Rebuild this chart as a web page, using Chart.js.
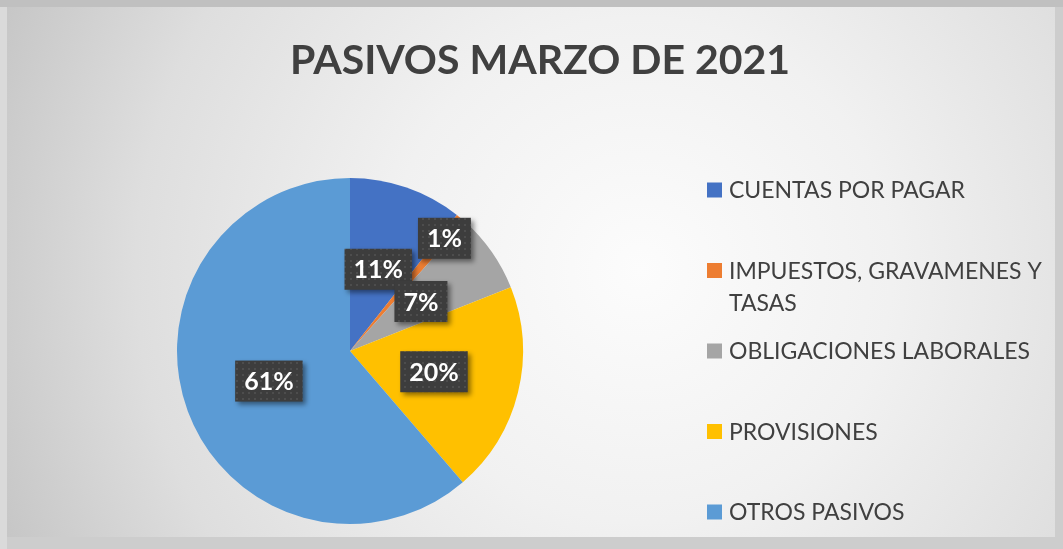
<!DOCTYPE html>
<html>
<head>
<meta charset="utf-8">
<script src="https://cdn.jsdelivr.net/npm/chart.js@4.4.1/dist/chart.umd.min.js"></script>
<style>
  html, body { margin: 0; padding: 0; background: #d0d0d0; }
  #wrap { position: absolute; left: 0; top: 0; width: 1063px; height: 549px; }
</style>
</head>
<body>
<div id="wrap"><canvas id="c" width="1063" height="549"></canvas></div>
<script>
// ---- data ----
const chartTitle = 'PASIVOS MARZO DE 2021';
const categories = ['CUENTAS POR PAGAR', 'IMPUESTOS, GRAVAMENES Y TASAS', 'OBLIGACIONES LABORALES', 'PROVISIONES', 'OTROS PASIVOS'];
const legendLines = [['CUENTAS POR PAGAR'], ['IMPUESTOS, GRAVAMENES Y', 'TASAS'], ['OBLIGACIONES LABORALES'], ['PROVISIONES'], ['OTROS PASIVOS']];
const shares = [10.6, 1.0, 7.4, 19.7, 61.3];
const colors = ['#4472C4', '#ED7D31', '#A5A5A5', '#FFC000', '#5B9BD5'];

// ---- styles ----
const TEXT_COLOR = '#404040';
const FONT = 'Lato, "Open Sans", "Liberation Sans", sans-serif';

function makePattern(ctx) {
  const p = document.createElement('canvas');
  p.width = 6; p.height = 6;
  const pc = p.getContext('2d');
  pc.fillStyle = '#3d3d3d';
  pc.fillRect(0, 0, 6, 6);
  pc.fillStyle = '#4d4d4d';
  pc.fillRect(2, 2, 2, 2);
  return ctx.createPattern(p, 'repeat');
}

const backgroundPlugin = {
  id: 'bg',
  beforeDraw(chart) {
    const ctx = chart.ctx;
    ctx.save();
    ctx.fillStyle = '#cdcdcd';
    ctx.fillRect(0, 0, 1063, 549);
    ctx.fillStyle = '#c0c0c0';
    ctx.fillRect(0, 0, 1063, 7);
    ctx.fillStyle = '#dadada';
    ctx.fillRect(0, 7, 7, 542);
    const g = ctx.createRadialGradient(640, 270, 0, 640, 270, 720);
    g.addColorStop(0, '#fcfcfc');
    g.addColorStop(0.35, '#f1f1f1');
    g.addColorStop(0.7, '#dedede');
    g.addColorStop(1, '#c2c2c2');
    ctx.fillStyle = g;
    ctx.fillRect(7, 7, 1048, 530);
    ctx.restore();
  }
};

const titleLegendPlugin = {
  id: 'titleLegend',
  afterDraw(chart) {
    const ctx = chart.ctx;
    ctx.save();
    // title
    ctx.fillStyle = TEXT_COLOR;
    ctx.font = 'bold 41px ' + FONT;
    ctx.textAlign = 'center';
    ctx.textBaseline = 'alphabetic';
    ctx.fillText(chartTitle, 540, 74);
    // legend
    ctx.font = '23px ' + FONT;
    ctx.textAlign = 'left';
    ctx.textBaseline = 'middle';
    const ds = chart.data.datasets[0];
    legendLines.forEach((lines, i) => {
      const cy = 190 + i * 80.5;
      ctx.fillStyle = ds.backgroundColor[i];
      ctx.fillRect(707, cy - 7.5, 15, 15);
      ctx.fillStyle = TEXT_COLOR;
      lines.forEach((t, j) => ctx.fillText(t, 729, cy + 1 + j * 32));
    });
    ctx.restore();
  }
};

const labelPlugin = {
  id: 'sliceLabels',
  afterDatasetsDraw(chart) {
    const ctx = chart.ctx;
    const meta = chart.getDatasetMeta(0);
    const data = chart.data.datasets[0].data;
    const total = data.reduce((a, b) => a + b, 0);
    const pattern = makePattern(ctx);
    ctx.save();
    ctx.font = 'bold 25px ' + FONT;
    meta.data.forEach((arc, i) => {
      const p = arc.getProps(['x', 'y', 'startAngle', 'endAngle', 'outerRadius'], true);
      const pct = data[i] / total * 100;
      const txt = Math.round(pct) + '%';
      const mid = (p.startAngle + p.endAngle) / 2;
      const frac = pct < 3 ? 0.85 : 0.5;
      const cx = p.x + Math.cos(mid) * p.outerRadius * frac;
      const cy = p.y + Math.sin(mid) * p.outerRadius * frac;
      const w = ctx.measureText(txt).width + 18;
      const h = 41;
      ctx.save();
      ctx.shadowColor = 'rgba(0,0,0,0.45)';
      ctx.shadowBlur = 5;
      ctx.shadowOffsetX = 3;
      ctx.shadowOffsetY = 3;
      ctx.fillStyle = pattern;
      ctx.fillRect(cx - w / 2, cy - h / 2, w, h);
      ctx.restore();
      ctx.fillStyle = '#ffffff';
      ctx.textAlign = 'center';
      ctx.textBaseline = 'middle';
      ctx.fillText(txt, cx, cy + 1);
    });
    ctx.restore();
  }
};

new Chart(document.getElementById('c'), {
  type: 'pie',
  data: {
    labels: categories,
    datasets: [{
      data: shares,
      backgroundColor: colors,
      borderWidth: 0,
      hoverOffset: 0
    }]
  },
  options: {
    responsive: false,
    animation: false,
    events: [],
    layout: { padding: { left: 177, right: 540, top: 178, bottom: 25 } },
    plugins: {
      legend: { display: false },
      title: { display: false },
      tooltip: { enabled: false }
    }
  },
  plugins: [backgroundPlugin, titleLegendPlugin, labelPlugin]
});
</script>
</body>
</html>
